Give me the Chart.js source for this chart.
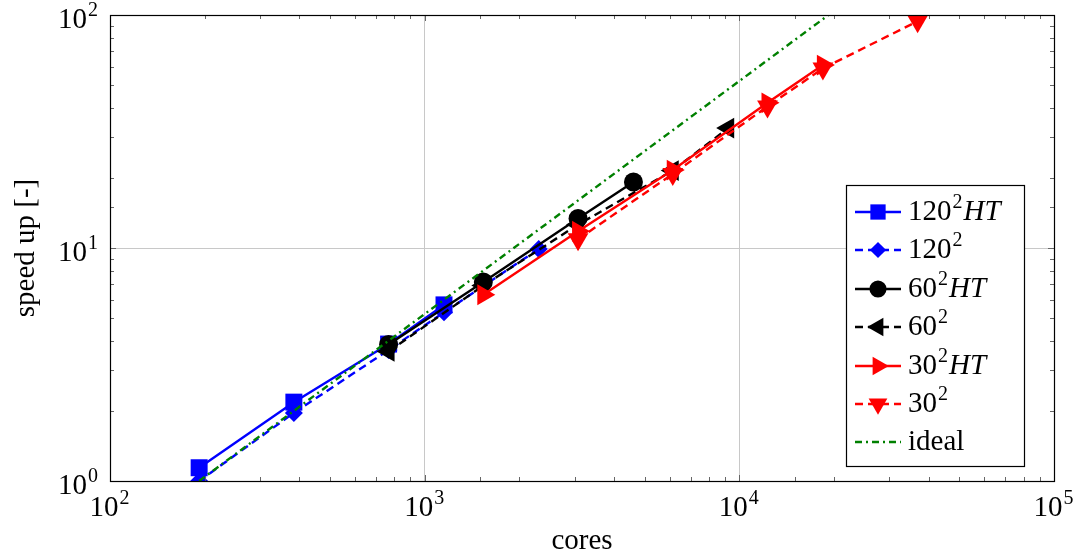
<!DOCTYPE html>
<html>
<head>
<meta charset="utf-8">
<script src="https://cdn.jsdelivr.net/npm/chart.js@4"></script>
<style>
  html, body { margin: 0; padding: 0; background: #fff; }
  #wrap { width: 1075px; height: 556px; }
</style>
</head>
<body>
<div id="wrap"><canvas id="speedup"></canvas></div>
<script>
// cores / speed up
const cores120HT = [192, 384, 768, 1152];
const speed120HT = [1.14, 2.18, 3.87, 5.7];
const cores120 = [192, 384, 768, 1152, 2304];
const speed120 = [1.0, 1.96, 3.65, 5.3, 9.9];
const cores60HT = [768, 1536, 3072, 4608];
const speed60HT = [3.85, 7.15, 13.4, 19.2];
const cores60 = [768, 1536, 3072, 6144, 9216];
const speed60 = [3.6, 6.9, 12.6, 21.5, 32.7];
const cores30HT = [1536, 3072, 6144, 12288, 18432];
const speed30HT = [6.3, 11.8, 21.6, 42, 61];
const cores30 = [3072, 6144, 12288, 18432, 36864];
const speed30 = [10.9, 20.8, 40.5, 59, 94];
const coresIdeal = [192, 19200];
const speedIdeal = [1, 100];

// legend labels: [text, style] pieces, style n = normal, s = superscript, i = italic
const labels = [
  [["120", "n"], ["2", "s"], ["HT", "i"]],
  [["120", "n"], ["2", "s"]],
  [["60", "n"], ["2", "s"], ["HT", "i"]],
  [["60", "n"], ["2", "s"]],
  [["30", "n"], ["2", "s"], ["HT", "i"]],
  [["30", "n"], ["2", "s"]],
  [["ideal", "n"]]
];

const FONT = '"Liberation Serif", "DejaVu Serif", serif';
const FS = 29;
const DASH = [8, 5];
const DASHDOT = [7, 4, 2, 4];

const pts = (xs, ys) => xs.map((x, i) => ({ x: x, y: ys[i] }));

function series(xs, ys, color, dash, style, radius, rotation, order) {
  return {
    data: pts(xs, ys),
    borderColor: color,
    backgroundColor: color,
    borderWidth: 2.4,
    borderDash: dash,
    pointStyle: style,
    pointRadius: radius,
    pointRotation: rotation,
    pointBorderWidth: 0,
    pointHoverRadius: radius,
    tension: 0,
    order: order
  };
}

// later series drawn on top, like the original
const datasets = [
  series(cores120HT, speed120HT, "#0000ff", [], "rect", 12, 0, 0),
  series(cores120, speed120, "#0000ff", DASH, "rectRot", 9, 0, -1),
  series(cores60HT, speed60HT, "#000000", [], "circle", 9.5, 0, -2),
  series(cores60, speed60, "#000000", DASH, "triangle", 12, -90, -3),
  series(cores30HT, speed30HT, "#ff0000", [], "triangle", 12, 90, -4),
  series(cores30, speed30, "#ff0000", DASH, "triangle", 12, 180, -5),
  series(coresIdeal, speedIdeal, "#008000", DASHDOT, false, 0, 0, -6)
];

const isMajor = v => Math.abs(Math.log10(v) - Math.round(Math.log10(v))) < 1e-9;

function drawPieces(ctx, pieces, x, y, size) {
  let cx = x;
  pieces.forEach(p => {
    if (p[1] === "s") {
      ctx.font = Math.round(size * 0.7) + "px " + FONT;
      ctx.fillText(p[0], cx + 1, y - size * 0.4);
      cx += ctx.measureText(p[0]).width + 2;
    } else {
      ctx.font = (p[1] === "i" ? "italic " : "") + size + "px " + FONT;
      ctx.fillText(p[0], cx, y);
      cx += ctx.measureText(p[0]).width;
    }
  });
  return cx - x;
}

function measurePieces(ctx, pieces, size) {
  let w = 0;
  pieces.forEach(p => {
    if (p[1] === "s") {
      ctx.font = Math.round(size * 0.7) + "px " + FONT;
      w += ctx.measureText(p[0]).width + 2;
    } else {
      ctx.font = (p[1] === "i" ? "italic " : "") + size + "px " + FONT;
      w += ctx.measureText(p[0]).width;
    }
  });
  return w;
}

const decor = {
  id: "decor",
  afterDraw(chart) {
    const ctx = chart.ctx;
    const a = chart.chartArea;
    const xs = chart.scales.x, ys = chart.scales.y;
    ctx.save();

    // inward ticks on all four sides
    ctx.strokeStyle = "#666";
    ctx.lineWidth = 1;
    xs.ticks.forEach(t => {
      const px = Math.round(xs.getPixelForValue(t.value)) + 0.5;
      const len = isMajor(t.value) ? 6 : 4;
      ctx.beginPath();
      ctx.moveTo(px, a.bottom); ctx.lineTo(px, a.bottom - len);
      ctx.moveTo(px, a.top); ctx.lineTo(px, a.top + len);
      ctx.stroke();
    });
    ys.ticks.forEach(t => {
      const py = Math.round(ys.getPixelForValue(t.value)) + 0.5;
      const len = isMajor(t.value) ? 6 : 4;
      ctx.beginPath();
      ctx.moveTo(a.left, py); ctx.lineTo(a.left + len, py);
      ctx.moveTo(a.right, py); ctx.lineTo(a.right - len, py);
      ctx.stroke();
    });

    // frame
    ctx.strokeStyle = "#000";
    ctx.lineWidth = 1.2;
    ctx.strokeRect(Math.round(a.left) + 0.5, Math.round(a.top) + 0.5,
      Math.round(a.right - a.left), Math.round(a.bottom - a.top));

    // tick labels with exponents
    ctx.fillStyle = "#000";
    ctx.textBaseline = "alphabetic";
    ctx.textAlign = "left";
    xs.ticks.forEach(t => {
      if (!isMajor(t.value)) return;
      const pieces = [["10", "n"], [String(Math.round(Math.log10(t.value))), "s"]];
      const w = measurePieces(ctx, pieces, FS);
      const px = xs.getPixelForValue(t.value);
      drawPieces(ctx, pieces, px - w / 2, 516, FS);
    });
    ys.ticks.forEach(t => {
      if (!isMajor(t.value)) return;
      const pieces = [["10", "n"], [String(Math.round(Math.log10(t.value))), "s"]];
      const w = measurePieces(ctx, pieces, FS);
      const py = ys.getPixelForValue(t.value);
      drawPieces(ctx, pieces, a.left - 11 - w, py + 13, FS);
    });

    // axis titles
    ctx.font = FS + "px " + FONT;
    ctx.textAlign = "center";
    ctx.fillText("cores", 582, 549);
    ctx.save();
    ctx.translate(34, 248);
    ctx.rotate(-Math.PI / 2);
    ctx.fillText("speed up [-]", 0, 0);
    ctx.restore();

    // legend box
    const bx = 846.5, by = 185.5, bw = 178, bh = 281;
    ctx.fillStyle = "#fff";
    ctx.fillRect(bx, by, bw, bh);
    ctx.strokeStyle = "#000";
    ctx.lineWidth = 1.2;
    ctx.strokeRect(bx, by, bw, bh);
    ctx.textAlign = "left";
    const rowY = [212, 250, 289, 327, 366, 404, 442];
    datasets.forEach((ds, i) => {
      const y = rowY[i];
      ctx.strokeStyle = ds.borderColor;
      ctx.fillStyle = ds.backgroundColor;
      ctx.lineWidth = ds.borderWidth;
      ctx.setLineDash(ds.borderDash);
      ctx.beginPath();
      ctx.moveTo(855, y); ctx.lineTo(901, y);
      ctx.stroke();
      ctx.setLineDash([]);
      if (ds.pointStyle) {
        Chart.helpers.drawPoint(ctx, {
          pointStyle: ds.pointStyle,
          radius: ds.pointRadius * 0.9,
          rotation: ds.pointRotation,
          borderWidth: 0
        }, 878, y);
      }
      ctx.fillStyle = "#000";
      drawPieces(ctx, labels[i], 908, y + 8, FS);
    });
    ctx.restore();
  }
};

new Chart(document.getElementById("speedup"), {
  type: "line",
  data: { datasets: datasets },
  options: {
    responsive: true,
    maintainAspectRatio: false,
    animation: false,
    layout: { padding: { left: 0, top: 15, right: 21, bottom: 0 } },
    plugins: { legend: { display: false }, tooltip: { enabled: false } },
    scales: {
      x: {
        type: "logarithmic",
        min: 100,
        max: 100000,
        ticks: { display: false, autoSkip: false },
        grid: {
          drawTicks: false,
          color: c => (c.tick && isMajor(c.tick.value)) ? "#c8c8c8" : "rgba(0,0,0,0)",
          lineWidth: 1
        },
        border: { display: false },
        afterFit: s => { s.height = 75; }
      },
      y: {
        type: "logarithmic",
        min: 1,
        max: 100,
        ticks: { display: false, autoSkip: false },
        grid: {
          drawTicks: false,
          color: c => (c.tick && isMajor(c.tick.value)) ? "#c8c8c8" : "rgba(0,0,0,0)",
          lineWidth: 1
        },
        border: { display: false },
        afterFit: s => { s.width = 110; }
      }
    }
  },
  plugins: [decor]
});
</script>
</body>
</html>
